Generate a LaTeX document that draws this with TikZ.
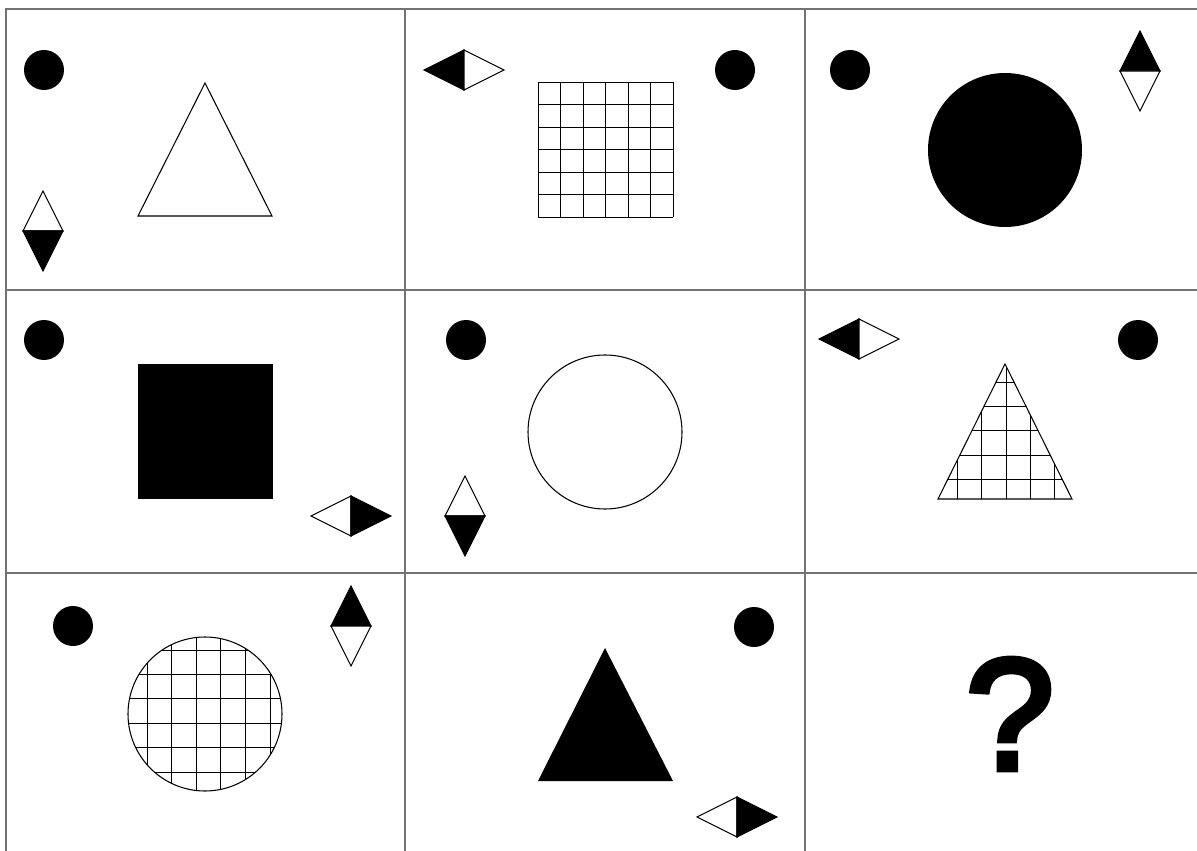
\documentclass[tikz,border=0pt]{standalone}
\usepackage{fontspec}
\newfontfamily\qfont[FakeBold=4]{Liberation Sans}
\usetikzlibrary{positioning}

% half-filled rhombi: centre x, centre y, fill of first half, fill of second half
\newcommand{\vrhomb}[4]{%
  \filldraw[shape line, fill=#3] (#1-20,#2) -- (#1,#2-40) -- (#1+20,#2) -- cycle;
  \filldraw[shape line, fill=#4] (#1-20,#2) -- (#1,#2+40) -- (#1+20,#2) -- cycle;}
\newcommand{\hrhomb}[4]{%
  \filldraw[shape line, fill=#3] (#1,#2-20) -- (#1-40,#2) -- (#1,#2+20) -- cycle;
  \filldraw[shape line, fill=#4] (#1,#2-20) -- (#1+40,#2) -- (#1,#2+20) -- cycle;}

\begin{document}
\begin{tikzpicture}[x=0.02cm, y=-0.02cm,
    frame/.style={draw=black!55, line width=1.1pt},
    shape line/.style={draw=black, line width=0.6pt, line join=miter},
    hatch/.style={draw=black, line width=0.55pt},
    dot/.style={fill=black}
]
    \useasboundingbox (0,0) rectangle (1197,851);
    \fill[white] (0,0) rectangle (1197,851);

    % frame of the 3x3 matrix
    \draw[frame] (6,851) -- (6,9) -- (1197,9);
    \draw[frame] (405,9) -- (405,851);
    \draw[frame] (805,9) -- (805,851);
    \draw[frame] (6,290) -- (1197,290);
    \draw[frame] (6,573) -- (1197,573);

    % row 1
    \fill[dot] (44,70) circle (20);
    \draw[shape line] (205,83) -- (272,216) -- (138,216) -- cycle;
    \vrhomb{43}{231}{white}{black}

    \hrhomb{464}{70}{black}{white}
    \fill[dot] (735,70) circle (20);
    \foreach \i in {0,...,6} {
        \draw[hatch] (538+22.5*\i,82) -- (538+22.5*\i,217);
        \draw[hatch] (538,82+22.5*\i) -- (673,82+22.5*\i);
    }

    \fill[dot] (850,70) circle (20);
    \fill[dot] (1005,150) circle (77);
    \vrhomb{1140}{71}{black}{white}

    % row 2
    \fill[dot] (44,340) circle (20);
    \fill[black] (138,364) rectangle (273,499);
    \hrhomb{351}{516}{white}{black}

    \fill[dot] (466,340) circle (20);
    \draw[shape line] (605,432) circle (77);
    \vrhomb{465}{516}{white}{black}

    \hrhomb{859}{339}{black}{white}
    \fill[dot] (1138,340) circle (20);
    \begin{scope}
        \clip (1005,364) -- (1072,499) -- (938,499) -- cycle;
        \foreach \i in {-3,...,3}
            \draw[hatch] (1006+24.3*\i,360) -- (1006+24.3*\i,500);
        \foreach \i in {0,...,4}
            \draw[hatch] (930,382+24.4*\i) -- (1080,382+24.4*\i);
    \end{scope}
    \draw[shape line] (1005,364) -- (1072,499) -- (938,499) -- cycle;

    % row 3
    \fill[dot] (73,626) circle (20);
    \begin{scope}
        \clip (205,714) circle (77);
        \foreach \i in {0,...,5} {
            \draw[hatch] (147+24.6*\i,630) -- (147+24.6*\i,800);
            \draw[hatch] (120,650+24.4*\i) -- (290,650+24.4*\i);
        }
    \end{scope}
    \draw[shape line] (205,714) circle (77);
    \vrhomb{351}{626}{black}{white}

    \fill[dot] (754,627) circle (20);
    \fill[black] (605,648) -- (673,781) -- (538,781) -- cycle;
    \hrhomb{737}{817}{white}{black}

    \node[font=\qfont\fontsize{90}{90}\selectfont, inner sep=0pt] (query) at (1010,714) {?};
\end{tikzpicture}
\end{document}
